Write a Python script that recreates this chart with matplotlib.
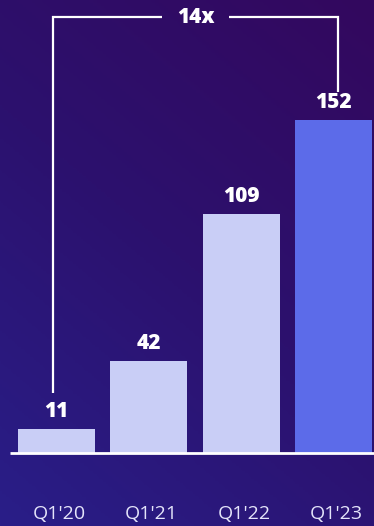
import numpy as np
import matplotlib.pyplot as plt
import matplotlib.transforms as mtransforms
from matplotlib.colors import LinearSegmentedColormap

# valores por trimestre
trimestres = ["Q1'20", "Q1'21", "Q1'22", "Q1'23"]
valores = [11, 42, 109, 152]
multiplo = "14x"

cor_barra = '#c9cef6'
cor_destaque = '#5c6be9'
cores = [cor_barra, cor_barra, cor_barra, cor_destaque]

fig = plt.figure(figsize=(3.74, 5.26), dpi=100)
ax = fig.add_axes([0, 0, 1, 1])

x = np.arange(len(valores))
xmin, xmax = -0.612, 3.439
ymin, ymax = -33.3, 206.8
ax.set_xlim(xmin, xmax)
ax.set_ylim(ymin, ymax)
ax.axis('off')

# fundo em degradê diagonal (azul embaixo à esquerda, roxo em cima à direita)
gx, gy = np.meshgrid(np.linspace(0, 1, 200), np.linspace(0, 1, 200))
grad = (gx * 0.45 + gy * 0.75) / 1.2
cmap_fundo = LinearSegmentedColormap.from_list('fundo', ['#291e88', '#2c116e', '#33085e'])
ax.imshow(grad, cmap=cmap_fundo, extent=[xmin, xmax, ymin, ymax], origin='lower',
          aspect='auto', zorder=0)

largura = 0.834
ax.bar(x, valores, width=largura, color=cores, zorder=2)

# linha de base
ax.plot([-0.504, xmax], [0, 0], color='white', lw=2, zorder=3, solid_capstyle='butt')

# valores acima das barras
for xi, v in zip(x, valores):
    ax.annotate(str(v), (xi, v), xytext=(0, 5), textcoords='offset points',
                ha='center', va='bottom', color='white', fontsize=15,
                fontweight='heavy', family='Open Sans', zorder=4)

# rótulos dos trimestres
trans = mtransforms.blended_transform_factory(ax.transData, ax.transAxes)
for xi, t in zip(x, trimestres):
    ax.text(xi + 0.03, 0.022, t, transform=trans, ha='center', va='center',
            color='#e4e4fa', fontsize=14, family='Open Sans')

# colchete entre o primeiro e o último trimestre
x_esq = x[0] - 0.04
x_dir = x[-1] + 0.05
y_topo = 199
y_esq = valores[0] + 16.5
y_dir = valores[-1] + 12.8
x_meio = (x_esq + x_dir) / 2
folga = 0.36
estilo = dict(color='white', lw=1.6, zorder=3, solid_capstyle='butt', solid_joinstyle='miter')
ax.plot([x_esq, x_esq, x_meio - folga], [y_esq, y_topo, y_topo], **estilo)
ax.plot([x_meio + folga, x_dir, x_dir], [y_topo, y_topo, y_dir], **estilo)
ax.text(x_meio, y_topo, multiplo, ha='center', va='center', color='white',
        fontsize=15, fontweight='heavy', family='Open Sans', zorder=4)

fig.savefig('out.png', dpi=100)
